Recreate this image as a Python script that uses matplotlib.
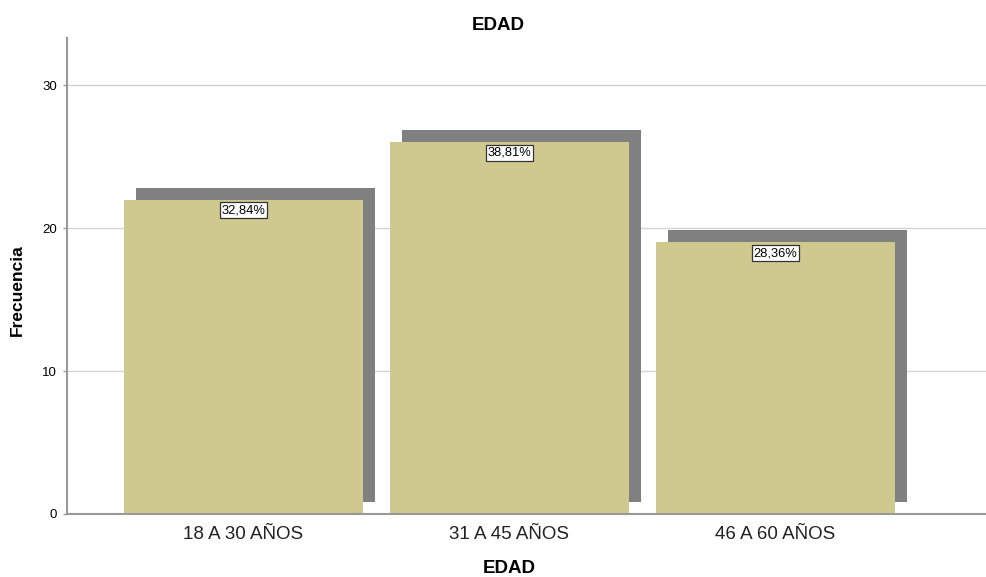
import matplotlib
matplotlib.use('Agg')
import matplotlib.pyplot as plt
import numpy as np

plt.rcParams['font.family'] = ['Liberation Sans', 'DejaVu Sans']

categorias = ['18 A 30 AÑOS', '31 A 45 AÑOS', '46 A 60 AÑOS']
frecuencias = [22, 26, 19]
porcentajes = ['32,84%', '38,81%', '28,36%']
yticks = [0, 10, 20, 30]

color_barra = '#cfc98f'
color_sombra = '#808080'
ancho = 0.898
dx, dy = 0.045, 0.84   # desplazamiento de la sombra

fig = plt.figure(figsize=(9.87, 5.77), dpi=100)
ax = fig.add_axes([0.0674, 0.1092, 0.9326, 0.8248])

x = np.arange(len(categorias))
# sombra detras de cada barra
ax.bar(x + dx, frecuencias, width=ancho, bottom=dy, color=color_sombra,
       linewidth=0, zorder=2)
ax.bar(x, frecuencias, width=ancho, color=color_barra, linewidth=0, zorder=3)

for xi, v, p in zip(x, frecuencias, porcentajes):
    ax.annotate(p, xy=(xi, v), xytext=(0, -7.6), textcoords='offset points',
                ha='center', va='center', fontsize=9.3, color='black', zorder=5,
                bbox=dict(boxstyle='square,pad=0.15', fc='white', ec='#333333', lw=0.9))

ax.set_xlim(-0.665, 2.795)
ax.set_ylim(0, 33.3)
ax.set_yticks(yticks)
ax.set_yticklabels([str(t) for t in yticks], fontsize=9.5)
ax.set_xticks(x)
ax.set_xticklabels(categorias, fontsize=13.5, color='#222222')
ax.tick_params(axis='x', length=0, pad=9)
ax.tick_params(axis='y', length=3, width=1, color='#999999', pad=4)

ax.grid(axis='y', color='#d4d4d4', linewidth=1, zorder=0)
ax.set_axisbelow(True)
for s in ['top', 'right']:
    ax.spines[s].set_visible(False)
for s in ['left', 'bottom']:
    ax.spines[s].set_color('#999999')
    ax.spines[s].set_linewidth(1.5)
    ax.spines[s].set_zorder(4)

fig.text(0.5046, 0.948, 'EDAD', ha='center', va='baseline', fontsize=13.5,
         fontweight='bold')
fig.text(0.516, 0.0, 'EDAD', ha='center', va='bottom', fontsize=13.5,
         fontweight='bold')
fig.text(0.018, 0.497, 'Frecuencia', ha='center', va='center', rotation=90,
         fontsize=12.5, fontweight='bold')

fig.savefig('out.png', dpi=100)
